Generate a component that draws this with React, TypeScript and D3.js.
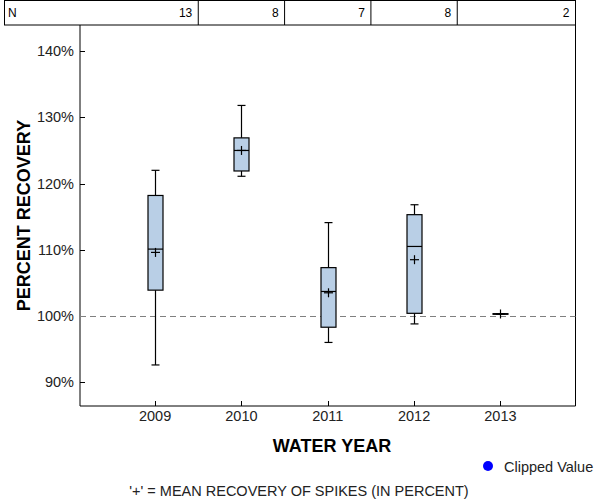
import React from "react";
import * as d3 from "d3";

const years = [2009, 2010, 2011, 2012, 2013];
const counts = [13, 8, 7, 8, 2];
const whiskerLow = [92.6, 121.1, 96.0, 98.8, 100.26];
const q1 = [103.9, 121.9, 98.3, 100.4, 100.26];
const median = [110.1, 125.0, 103.7, 110.5, 100.3];
const q3 = [118.2, 126.9, 107.3, 115.3, 100.34];
const whiskerHigh = [122.0, 131.8, 114.1, 116.8, 100.34];
const means = [109.6, 125.0, 103.5, 108.5, 100.3];
const yTicks = [90, 100, 110, 120, 130, 140];

const FONT = "'Liberation Sans', Arial, sans-serif";

export default function App() {
  const W = 600, H = 500;
  const left = 80, right = 575.5, top = 25, bottom = 406;
  const x = d3.scaleLinear().domain([2008.13, 2013.87]).range([left, right]);
  const y = d3.scaleLinear().domain([86.4, 143.95]).range([bottom, top]);
  const boxW = 15;
  const capW = 4;
  const plus = 4.5;
  const cellEdges = [4.5, ...years.slice(1).map((yr) => x(yr - 0.5)), right];

  return (
    <svg
      width={W}
      height={H}
      style={{ position: "absolute", left: 0, top: 0, background: "#fff" }}
      fontFamily={FONT}
    >
      <rect x={0} y={0} width={W} height={H} fill="#fff" />
      {/* N table */}
      <rect x={4.5} y={0.5} width={right - 4.5} height={24.5} fill="none" stroke="#000" strokeWidth={1} />
      {cellEdges.slice(1, -1).map((cx, i) => (
        <line key={i} x1={cx} x2={cx} y1={0.5} y2={25} stroke="#000" />
      ))}
      <text x={8} y={17} fontSize={12} fill="#000">N</text>
      {counts.map((c, i) => (
        <text key={i} x={cellEdges[i + 1] - 6} y={17} fontSize={12} textAnchor="end" fill="#000">
          {c}
        </text>
      ))}
      {/* plot frame */}
      <line x1={left} x2={left} y1={top} y2={bottom} stroke="#000" />
      <line x1={right} x2={right} y1={top} y2={bottom} stroke="#000" />
      <line x1={left} x2={right} y1={bottom} y2={bottom} stroke="#000" />
      {/* y ticks */}
      {yTicks.map((t) => (
        <g key={t}>
          <line x1={left} x2={left + 5} y1={Math.round(y(t)) + 0.5} y2={Math.round(y(t)) + 0.5} stroke="#000" />
          <text x={left - 6} y={y(t) + 5} fontSize={14.5} textAnchor="end" fill="#222">
            {t}%
          </text>
        </g>
      ))}
      {/* x ticks */}
      {years.map((yr) => (
        <g key={yr}>
          <line x1={Math.round(x(yr)) + 0.5} x2={Math.round(x(yr)) + 0.5} y1={bottom - 5} y2={bottom} stroke="#000" />
          <text x={x(yr)} y={421} fontSize={14.5} textAnchor="middle" fill="#222">
            {yr}
          </text>
        </g>
      ))}
      {/* reference line */}
      <line
        x1={left}
        x2={right}
        y1={Math.round(y(100)) + 0.5}
        y2={Math.round(y(100)) + 0.5}
        stroke="#808080"
        strokeDasharray="6,4"
      />
      {/* boxes */}
      {years.map((yr, i) => {
        const cx = Math.round(x(yr)) + 0.5;
        return (
          <g key={yr} stroke="#000" strokeWidth={1.2}>
            <line x1={cx} x2={cx} y1={y(whiskerHigh[i])} y2={y(q3[i])} />
            <line x1={cx} x2={cx} y1={y(q1[i])} y2={y(whiskerLow[i])} />
            <line x1={cx - capW} x2={cx + capW} y1={y(whiskerHigh[i])} y2={y(whiskerHigh[i])} />
            <line x1={cx - capW} x2={cx + capW} y1={y(whiskerLow[i])} y2={y(whiskerLow[i])} />
            <rect
              x={cx - boxW / 2}
              y={y(q3[i])}
              width={boxW}
              height={Math.max(0, y(q1[i]) - y(q3[i]))}
              fill="#b9cfe6"
            />
            <line x1={cx - boxW / 2} x2={cx + boxW / 2} y1={y(median[i])} y2={y(median[i])} />
            <line x1={cx - plus} x2={cx + plus} y1={y(means[i])} y2={y(means[i])} />
            <line x1={cx} x2={cx} y1={y(means[i]) - plus} y2={y(means[i]) + plus} />
          </g>
        );
      })}
      {/* axis titles */}
      <text x={332} y={452} fontSize={18} fontWeight="bold" textAnchor="middle" fill="#000">
        WATER YEAR
      </text>
      <text
        transform={`translate(30,${(top + bottom) / 2}) rotate(-90)`}
        fontSize={18}
        fontWeight="bold"
        textAnchor="middle"
        fill="#000"
      >
        PERCENT RECOVERY
      </text>
      {/* legend */}
      <circle cx={488} cy={466} r={5} fill="#0000ff" />
      <text x={504} y={472} fontSize={14.5} fill="#222">Clipped Value</text>
      <text x={299} y={496} fontSize={14.5} textAnchor="middle" fill="#222">
        '+' = MEAN RECOVERY OF SPIKES (IN PERCENT)
      </text>
    </svg>
  );
}
